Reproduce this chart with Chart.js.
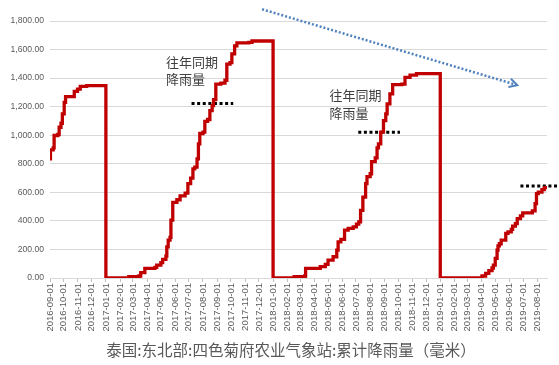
<!DOCTYPE html>
<html>
<head>
<meta charset="utf-8">
<script src="https://cdn.jsdelivr.net/npm/chart.js@4/dist/chart.umd.min.js"></script>
<style>
  html, body { margin: 0; padding: 0; background: #fff; }
  #wrap { width: 559px; height: 365px; position: relative; }
</style>
</head>
<body>
<div id="wrap"><canvas id="c"></canvas></div>
<script>
// Month-start tick labels along the date axis
const monthTicks = [
  '2016-09-01','2016-10-01','2016-11-01','2016-12-01',
  '2017-01-01','2017-02-01','2017-03-01','2017-04-01','2017-05-01','2017-06-01',
  '2017-07-01','2017-08-01','2017-09-01','2017-10-01','2017-11-01','2017-12-01',
  '2018-01-01','2018-02-01','2018-03-01','2018-04-01','2018-05-01','2018-06-01',
  '2018-07-01','2018-08-01','2018-09-01','2018-10-01','2018-11-01','2018-12-01',
  '2019-01-01','2019-02-01','2019-03-01','2019-04-01','2019-05-01','2019-06-01',
  '2019-07-01','2019-08-01'
];

// Cumulative rainfall (mm): date on which the running total changes, and the new total
const dates2016 = ['2016-09-01','2016-09-02','2016-09-08','2016-09-10','2016-09-18','2016-09-21',
  '2016-09-25','2016-09-28','2016-10-02','2016-10-05','2016-10-24','2016-10-31','2016-11-06','2016-11-20'];
const rain2016 = [835, 898, 912, 998, 1005, 1056, 1084, 1149, 1230, 1270, 1307, 1323, 1342, 1348];

const dates2017 = ['2017-01-01','2017-02-20','2017-03-14','2017-03-18','2017-03-27','2017-04-18',
  '2017-04-22','2017-05-01','2017-05-05','2017-05-12','2017-05-14','2017-05-17','2017-05-21',
  '2017-05-23','2017-05-27','2017-06-05','2017-06-12','2017-06-23','2017-06-29','2017-07-05',
  '2017-07-10','2017-07-14','2017-07-19','2017-07-22','2017-07-25','2017-08-01','2017-08-05',
  '2017-08-11','2017-08-16','2017-08-21','2017-08-24','2017-08-29','2017-09-09','2017-09-18',
  '2017-09-22','2017-09-29','2017-10-03','2017-10-09','2017-10-14','2017-11-09','2017-11-16'];
const rain2017 = [0, 9, 14, 37, 67, 74, 90, 107, 130, 153, 218, 265, 284, 405, 530, 548, 575,
  595, 661, 700, 765, 777, 835, 940, 1012, 1021, 1097, 1110, 1172, 1207, 1250, 1358, 1365,
  1385, 1498, 1509, 1570, 1626, 1647, 1650, 1660];

const dates2018 = ['2018-01-01','2018-02-16','2018-03-11','2018-03-13','2018-04-14','2018-04-25',
  '2018-05-01','2018-05-12','2018-05-20','2018-05-23','2018-05-29','2018-06-06','2018-06-14',
  '2018-06-25','2018-07-02','2018-07-07','2018-07-11','2018-07-16','2018-07-22','2018-07-25',
  '2018-08-01','2018-08-04','2018-08-12','2018-08-16','2018-08-19','2018-08-24','2018-08-30',
  '2018-09-04','2018-09-07','2018-09-13','2018-09-19','2018-10-09','2018-10-16','2018-10-27',
  '2018-11-10'];
const rain2018 = [0, 9, 14, 67, 79, 95, 125, 149, 195, 253, 270, 335, 347, 358, 377, 393, 474,
  567, 661, 710, 730, 815, 842, 912, 940, 1021, 1102, 1150, 1219, 1289, 1354, 1358, 1405,
  1421, 1432];

const dates2019 = ['2019-01-01','2019-04-02','2019-04-10','2019-04-17','2019-04-24','2019-04-27',
  '2019-05-01','2019-05-05','2019-05-07','2019-05-10','2019-05-14','2019-05-24','2019-05-29',
  '2019-06-05','2019-06-08','2019-06-14','2019-06-18','2019-06-25','2019-06-30','2019-07-21',
  '2019-07-27','2019-07-30','2019-08-03','2019-08-11','2019-08-16','2019-08-22'];
const rain2019 = [0, 14, 33, 51, 70, 90, 137, 195, 225, 240, 265, 312, 323, 340, 363, 381, 416,
  435, 456, 470, 521, 591, 602, 619, 633, 633];

// Same-period rainfall of previous years (mm) and the span each level is drawn over
const normalSpan2017 = ['2017-07-07', '2017-10-06'];
const normal2017 = 1222;
const normalSpan2018 = ['2018-07-06', '2018-10-05'];
const normal2018 = 1021;
const normalSpan2019 = ['2019-06-25', '2019-09-18'];
const normal2019 = 644;

// Downward trend arrow across the season peaks
const trendDates = ['2017-12-08', '2019-06-18'];
const trendValues = [1882, 1351];

const noteLines = ['往年同期', '降雨量'];
const chartTitle = '泰国:东北部:四色菊府农业气象站:累计降雨量（毫米）';

const DAY0 = Date.UTC(2016, 8, 1);
function dayOf(s) {
  const [y, m, d] = s.split('-').map(Number);
  return Math.round((Date.UTC(y, m - 1, d) - DAY0) / 864e5);
}
function toPoints(dates, values) {
  return dates.map((d, i) => ({ x: dayOf(d), y: values[i] }));
}
function levelPoints(span, value) {
  return span.map(d => ({ x: dayOf(d), y: value }));
}

const rainPoints = [].concat(
  toPoints(dates2016, rain2016),
  toPoints(dates2017, rain2017),
  toPoints(dates2018, rain2018),
  toPoints(dates2019, rain2019)
);

const levelStyle = {
  borderColor: '#000000',
  borderWidth: 3,
  borderDash: [3, 2.6],
  pointRadius: 0,
  clip: false,
  fill: false
};

// Text labels placed beside the previous-year levels
const notes = [
  { date: '2017-05-12', value: 1514 },
  { date: '2018-05-04', value: 1281 }
];

const annotate = {
  id: 'annotate',
  afterDatasetsDraw(chart) {
    const ctx = chart.ctx;
    const xs = chart.scales.x, ys = chart.scales.y;

    // arrow head at the end of the trend line
    const meta = chart.getDatasetMeta(4);
    const p0 = meta.data[0], p1 = meta.data[1];
    const ang = Math.atan2(p1.y - p0.y, p1.x - p0.x);
    const len = 9, spread = 0.5;
    ctx.save();
    ctx.strokeStyle = '#4F81BD';
    ctx.lineWidth = 2;
    ctx.setLineDash([]);
    ctx.beginPath();
    ctx.moveTo(p1.x - len * Math.cos(ang - spread), p1.y - len * Math.sin(ang - spread));
    ctx.lineTo(p1.x, p1.y);
    ctx.lineTo(p1.x - len * Math.cos(ang + spread), p1.y - len * Math.sin(ang + spread));
    ctx.stroke();

    // note text
    ctx.fillStyle = '#404040';
    ctx.font = '13px "Noto Sans CJK SC", sans-serif';
    ctx.textAlign = 'left';
    ctx.textBaseline = 'middle';
    notes.forEach(n => {
      const x = xs.getPixelForValue(dayOf(n.date));
      const y = ys.getPixelForValue(n.value);
      noteLines.forEach((t, i) => ctx.fillText(t, x, y + i * 17.5));
    });

    // chart title under the axis labels
    ctx.fillStyle = '#595959';
    ctx.font = '15.5px "Noto Sans CJK SC", sans-serif';
    ctx.textAlign = 'center';
    ctx.fillText(chartTitle, 291, 350);
    ctx.restore();
  }
};

new Chart(document.getElementById('c'), {
  type: 'line',
  data: {
    datasets: [
      {
        data: rainPoints,
        stepped: 'before',
        borderColor: '#C00000',
        borderWidth: 3.3,
        borderJoinStyle: 'miter',
        pointRadius: 0,
        fill: false
      },
      Object.assign({ data: levelPoints(normalSpan2017, normal2017) }, levelStyle),
      Object.assign({ data: levelPoints(normalSpan2018, normal2018) }, levelStyle),
      Object.assign({ data: levelPoints(normalSpan2019, normal2019) }, levelStyle),
      {
        data: toPoints(trendDates, trendValues),
        borderColor: '#4F81BD',
        borderWidth: 2.5,
        borderDash: [2, 2],
        pointRadius: 0,
        clip: false,
        fill: false
      }
    ]
  },
  options: {
    responsive: true,
    maintainAspectRatio: false,
    animation: false,
    events: [],
    layout: { padding: { top: 21, right: 12, left: 0, bottom: 0 } },
    plugins: {
      legend: { display: false },
      tooltip: { enabled: false },
      title: { display: false }
    },
    scales: {
      x: {
        type: 'linear',
        min: 0,
        max: dayOf('2019-08-22'),
        afterBuildTicks(axis) {
          axis.ticks = monthTicks.map(s => ({ value: dayOf(s) }));
        },
        afterFit(axis) { axis.height = 87; },
        ticks: {
          autoSkip: false,
          maxRotation: 90,
          minRotation: 90,
          padding: 1,
          color: '#595959',
          font: { family: '"Liberation Sans", Arial, sans-serif', size: 9.5 },
          callback: (v, i) => monthTicks[i]
        },
        grid: {
          drawOnChartArea: false,
          drawTicks: true,
          tickLength: 4,
          color: '#bfbfbf'
        },
        border: { display: true, color: '#d9d9d9', width: 1 }
      },
      y: {
        min: 0,
        max: 1800,
        afterFit(axis) { axis.width = 50; },
        ticks: {
          stepSize: 200,
          padding: 6,
          color: '#595959',
          font: { family: '"Liberation Sans", Arial, sans-serif', size: 8.6 },
          callback: v => v.toLocaleString('en-US', { minimumFractionDigits: 2, maximumFractionDigits: 2 })
        },
        grid: { color: '#d9d9d9', lineWidth: 1, drawTicks: false },
        border: { display: false }
      }
    }
  },
  plugins: [annotate]
});
</script>
</body>
</html>
